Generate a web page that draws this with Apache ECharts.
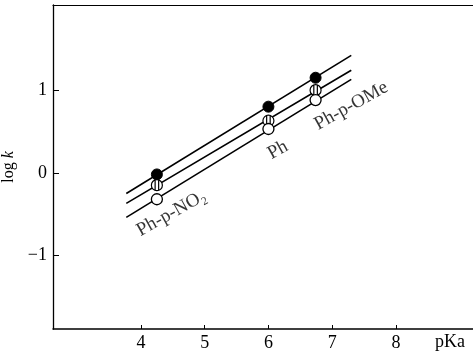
<!DOCTYPE html>
<html>
<head>
<meta charset="utf-8">
<script src="https://cdn.jsdelivr.net/npm/echarts@6/dist/echarts.min.js"></script>
<style>html,body{margin:0;padding:0;background:#fff}#c{width:473px;height:355px}</style>
</head>
<body>
<div id="c"></div>
<script>
// Point groups (pKa)
var pKa = [4.25, 6.0, 6.74];
var filledVals = [-0.02, 0.80, 1.15];
var halfVals = [-0.15, 0.63, 1.00];
var openVals = [-0.32, 0.53, 0.88];
// Regression lines (end points)
var lineX = [3.77, 7.30];
var lineTop = [-0.25, 1.42];
var lineMid = [-0.37, 1.24];
var lineBot = [-0.54, 1.13];
// Tick labels
var xTicks = [4, 5, 6, 7, 8];
var yTicks = [-1, 0, 1];
// Group labels
var groupNames = ['Ph-p-NO\u2082', 'Ph', 'Ph-p-OMe'];
var groupLabelX = [4.48, 6.15, 7.30];
var groupLabelY = [-0.49, 0.275, 0.81];

var serif = "'Liberation Serif', 'Times New Roman', Times, serif";
function pairs(xs, ys) { return xs.map(function (x, i) { return [x, ys[i]]; }); }
var halfSymbol = 'path://M0,-5A5,5 0 1,1 0,5A5,5 0 1,1 0,-5ZM-1.6,-4.7L-1.6,4.7M1.6,-4.7L1.6,4.7';

var chart = echarts.init(document.getElementById('c'));
var lineStyle = { color: '#000', width: 1.6 };
chart.setOption({
  animation: false,
  grid: { left: 53, right: 0, top: 5, bottom: 26, containLabel: false, outerBoundsMode: 'none' },
  xAxis: [{
    type: 'value', min: 2.62, max: 9.21,
    axisLine: { onZero: false, lineStyle: { color: '#000', width: 1.5 } },
    axisTick: { show: true, inside: true, length: 4, customValues: xTicks, lineStyle: { color: '#000' } },
    axisLabel: { customValues: xTicks, color: '#000', fontFamily: serif, fontSize: 18, margin: 5 },
    splitLine: { show: false }
  }, {
    type: 'value', position: 'top', min: 2.62, max: 9.21,
    axisLine: { show: true, onZero: false, lineStyle: { color: '#000', width: 1.2 } },
    axisTick: { show: false }, axisLabel: { show: false }, splitLine: { show: false }
  }],
  yAxis: {
    type: 'value', min: -1.89, max: 2.03,
    name: '{a|log }{b|k}', nameLocation: 'middle', nameGap: 31, nameRotate: 90,
    nameTextStyle: { rich: { a: { fontFamily: serif, fontSize: 16, color: '#000' }, b: { fontFamily: serif, fontSize: 16, fontStyle: 'italic', color: '#000' } } },
    axisLine: { show: true, onZero: false, lineStyle: { color: '#000', width: 1.3 } },
    axisTick: { show: true, inside: true, length: 6, customValues: yTicks, lineStyle: { color: '#000' } },
    axisLabel: { customValues: yTicks, color: '#000', fontFamily: serif, fontSize: 18, margin: 6,
      formatter: function (v) { return String(v).replace('-', '\u2212'); } },
    splitLine: { show: false }
  },
  series: [
    { type: 'line', data: pairs(lineX, lineTop), symbol: 'none', lineStyle: lineStyle, z: 1 },
    { type: 'line', data: pairs(lineX, lineMid), symbol: 'none', lineStyle: lineStyle, z: 1 },
    { type: 'line', data: pairs(lineX, lineBot), symbol: 'none', lineStyle: lineStyle, z: 1 },
    { type: 'scatter', data: pairs(pKa, filledVals), symbol: 'circle', symbolSize: 11,
      itemStyle: { color: '#000', borderColor: '#000', borderWidth: 1, opacity: 1 }, z: 3 },
    { type: 'scatter', data: pairs(pKa, halfVals), symbol: halfSymbol, symbolSize: 11,
      itemStyle: { color: '#fff', borderColor: '#000', borderWidth: 1.2, opacity: 1 }, z: 3 },
    { type: 'scatter', data: pairs(pKa, openVals), symbol: 'circle', symbolSize: 11,
      itemStyle: { color: '#fff', borderColor: '#000', borderWidth: 1.3, opacity: 1 }, z: 3 },
    { type: 'scatter', symbolSize: 0, silent: true,
      data: groupNames.map(function (n, i) { return { value: [groupLabelX[i], groupLabelY[i]], name: n }; }),
      label: { show: true, position: 'inside', rotate: 29, formatter: '{b}', color: '#000',
        fontFamily: serif, fontSize: 19 } }
  ],
  graphic: [{
    type: 'text', left: 435, top: 333,
    style: { text: 'pKa', fontFamily: serif, fontSize: 18, fill: '#000' }
  }]
});
</script>
</body>
</html>
